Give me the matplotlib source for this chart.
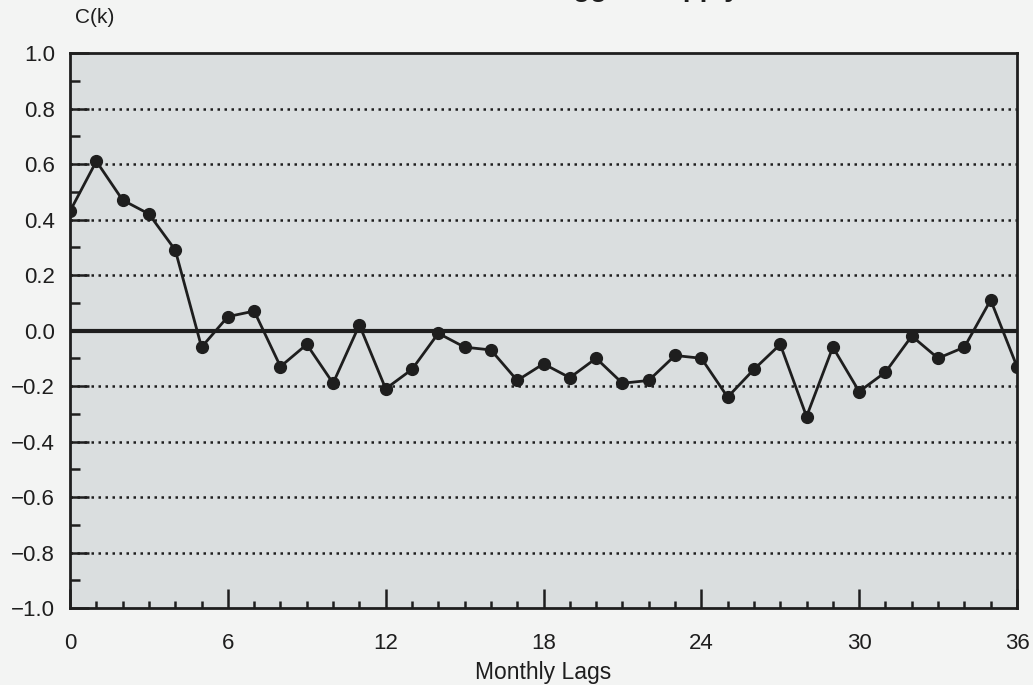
import numpy as np
import matplotlib.pyplot as plt
from matplotlib.ticker import MultipleLocator

# cross-correlation C(k) by monthly lag
lags = list(range(0, 37))
ck = [0.43, 0.61, 0.47, 0.42, 0.29, -0.06, 0.05, 0.07, -0.13, -0.05,
      -0.19, 0.02, -0.21, -0.14, -0.01, -0.06, -0.07, -0.18, -0.12, -0.17,
      -0.10, -0.19, -0.18, -0.09, -0.10, -0.24, -0.14, -0.05, -0.31, -0.06,
      -0.22, -0.15, -0.02, -0.10, -0.06, 0.11, -0.13]

xticks = [0, 6, 12, 18, 24, 30, 36]
yticks = [-1.0, -0.8, -0.6, -0.4, -0.2, 0.0, 0.2, 0.4, 0.6, 0.8, 1.0]

plt.rcParams['font.family'] = ['Liberation Sans', 'DejaVu Sans']

fig = plt.figure(figsize=(10.33, 6.85), dpi=100, facecolor='#f3f4f3')
ax = fig.add_axes([0.0678, 0.1124, 0.9167, 0.8102])
ax.set_facecolor('#dadedf')

# dotted grid, bold zero line
for yv in yticks:
    if yv == 0.0:
        ax.axhline(0, color='#1e1e1e', linewidth=3, zorder=2)
    elif -1.0 < yv < 1.0:
        ax.axhline(yv, color='#1e1e1e', linewidth=1.8, linestyle=(0, (1, 1.8)), zorder=1)

ax.plot(lags, ck, color='#1e1e1e', linewidth=2, marker='o', markersize=8.5,
        markerfacecolor='#1e1e1e', markeredgecolor='#1e1e1e', zorder=3)

ax.set_xlim(0, 36)
ax.set_ylim(-1.0, 1.0)
ax.set_xticks(xticks)
ax.set_yticks(yticks)
ax.set_yticklabels([('%.1f' % v).replace('-', '\u2212') for v in yticks])
ax.xaxis.set_minor_locator(MultipleLocator(1))
ax.yaxis.set_minor_locator(MultipleLocator(0.1))
ax.tick_params(axis='both', which='major', direction='in', length=14, width=1.8,
               labelsize=16, color='#1e1e1e', labelcolor='#1e1e1e')
ax.tick_params(axis='both', which='minor', direction='in', length=7, width=1.8,
               color='#1e1e1e')
ax.tick_params(axis='x', which='major', pad=18)
ax.tick_params(axis='x', which='minor', length=5)
ax.tick_params(axis='y', which='major', pad=11)

for s in ax.spines.values():
    s.set_linewidth(2)
    s.set_color('#1e1e1e')

ax.set_xlabel('Monthly Lags', fontsize=16.5, color='#1e1e1e', labelpad=5)
fig.text(0.092, 0.975, 'C(k)', fontsize=15, ha='center', va='center', color='#1e1e1e')

# title is cut off by the top edge of the scan, only its descenders show
fig.text(0.716, 1.006, 'Cross-Correlations with Lagged Supply', fontsize=20,
         fontweight='bold', ha='right', va='baseline', color='#1e1e1e')

fig.savefig('out.png', dpi=100, facecolor=fig.get_facecolor())
